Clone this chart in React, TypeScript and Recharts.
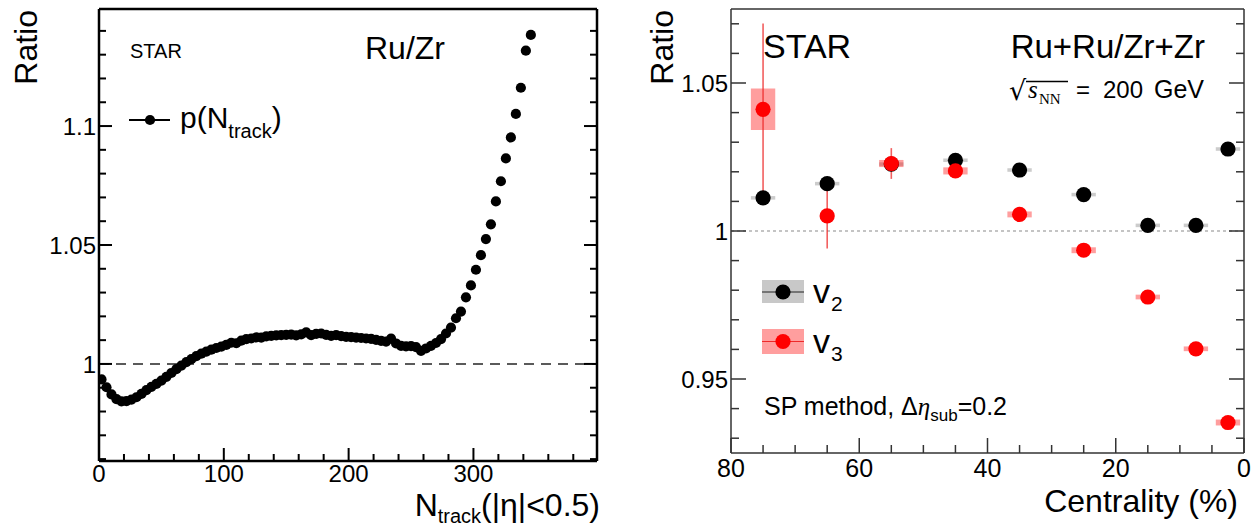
import React from 'react';
import {
  ErrorBar,
  ReferenceArea,
  ReferenceLine,
  Scatter,
  ScatterChart,
  XAxis,
  YAxis,
} from 'recharts';

const FONT = '"Liberation Sans", Arial, Helvetica, sans-serif';
const SERIF = '"Liberation Serif", "DejaVu Serif", serif';

// ---- left panel: p(N_track) Ru/Zr ratio
const nTrack = [
  2, 6, 10, 14, 18, 22, 26, 30, 34, 38,
  42, 46, 50, 54, 58, 62, 66, 70, 74, 78,
  82, 86, 90, 94, 98, 102, 106, 110, 114, 118,
  122, 126, 130, 134, 138, 142, 146, 150, 154, 158,
  162, 166, 170, 174, 178, 182, 186, 190, 194, 198,
  202, 206, 210, 214, 218, 222, 226, 230, 234, 238,
  242, 246, 250, 254, 258, 262, 266, 270, 274, 278,
  282, 286, 290, 294, 298, 302, 306, 310, 314, 318,
  322, 326, 330, 334, 338, 342, 346,
];
const pTrackRatio = [
  0.9935, 0.9902, 0.9872, 0.9852, 0.9843, 0.9844, 0.985, 0.986, 0.9874, 0.989,
  0.9904, 0.9916, 0.993, 0.9946, 0.9962, 0.9978, 0.9993, 1.0008, 1.002, 1.0033,
  1.0043, 1.0052, 1.006, 1.0067, 1.0073, 1.008, 1.0089, 1.0087, 1.0098, 1.0104,
  1.0107, 1.0112, 1.0111, 1.0116, 1.0118, 1.012, 1.0121, 1.0122, 1.0123, 1.012,
  1.0124, 1.0133, 1.0121, 1.0126, 1.0128, 1.0122, 1.0118, 1.0121, 1.0117, 1.0114,
  1.0113, 1.0111, 1.0109, 1.0107, 1.0105, 1.0101, 1.0097, 1.0094, 1.0106, 1.0086,
  1.0076, 1.0074, 1.0075, 1.0071, 1.0055, 1.0065, 1.0076, 1.0088, 1.0104, 1.0128,
  1.0153, 1.0192, 1.022, 1.028, 1.033, 1.0396, 1.0457, 1.0525, 1.0587, 1.0683,
  1.0768, 1.0864, 1.0952, 1.1051, 1.1161, 1.1317, 1.1383,
];
const leftXTicks = [0, 20, 40, 60, 80, 100, 120, 140, 160, 180, 200, 220, 240, 260, 280, 300, 320, 340, 360, 380];
const leftYTicks = [0.96, 0.97, 0.98, 0.99, 1, 1.01, 1.02, 1.03, 1.04, 1.05, 1.06, 1.07, 1.08, 1.09, 1.1, 1.11, 1.12, 1.13, 1.14];

// ---- right panel: v2, v3 ratio vs centrality
const centrality = [75, 65, 55, 45, 35, 25, 15, 7.5, 2.5];
const v2Ratio = [1.0112, 1.016, 1.0226, 1.0239, 1.0206, 1.0123, 1.0019, 1.0019, 1.0277];
const v2Sys = [0.0006, 0.0006, 0.0006, 0.0006, 0.0006, 0.0006, 0.0006, 0.0006, 0.0006];
const v3Ratio = [1.0411, 1.0051, 1.0228, 1.0203, 1.0056, 0.9935, 0.9777, 0.9602, 0.9353];
const v3Stat = [0.029, 0.011, 0.0052, 0.002, 0.0015, 0.0015, 0.0012, 0.0012, 0.0012];
const v3Sys = [0.007, 0, 0.0012, 0.0012, 0.001, 0.001, 0.0008, 0.0008, 0.001];
const rightXTicks = [0, 5, 10, 15, 20, 25, 30, 35, 40, 45, 50, 55, 60, 65, 70, 75, 80];
const rightYTicks = [0.93, 0.94, 0.95, 0.96, 0.97, 0.98, 0.99, 1, 1.01, 1.02, 1.03, 1.04, 1.05, 1.06, 1.07];
const SYS_HALF = 1.9;

const LW = 620;
const LH = 527;
const LF = { left: 99, right: 597, top: 9, bottom: 461 };
const RW = 632;
const RH = 527;
const RF = { left: 111, right: 624, top: 9, bottom: 453 };
const AX = 1; // axis band thickness (must be > 0 or the axis is not drawn)

const isMajorY = (v: number) => Math.round(v * 100) % 5 === 0;
const fmt = (v: number) => String(Math.round(v * 100) / 100);

const frameMargin = (w: number, h: number, f: { left: number; right: number; top: number; bottom: number }) => ({
  top: f.top - AX,
  left: f.left - AX,
  right: w - f.right - AX,
  bottom: h - f.bottom - AX,
});

// ROOT-style ticks: drawn inside the frame, labels only on majors
function tickFactory(
  side: 'left' | 'right' | 'top' | 'bottom',
  frame: { left: number; right: number; top: number; bottom: number },
  opts: { major: (v: number) => boolean; majorLen: number; minorLen: number; stroke: string; width: number; label?: boolean; fontSize?: number; labelGap?: number },
) {
  return (props: any) => {
    const v = props.payload.value;
    const major = opts.major(v);
    const len = major ? opts.majorLen : opts.minorLen;
    const line = { stroke: opts.stroke, strokeWidth: opts.width };
    if (side === 'left' || side === 'right') {
      const y = props.y;
      const x0 = side === 'left' ? frame.left : frame.right;
      const x1 = side === 'left' ? x0 + len : x0 - len;
      return (
        <g>
          <line x1={x0} x2={x1} y1={y} y2={y} {...line} />
          {opts.label && major && (
            <text x={frame.left - 3} y={y + (opts.fontSize ?? 22) * 0.36} textAnchor="end" fontSize={opts.fontSize} fontFamily={FONT} fill="#000">
              {fmt(v)}
            </text>
          )}
        </g>
      );
    }
    const x = props.x;
    const y0 = side === 'bottom' ? frame.bottom : frame.top;
    const y1 = side === 'bottom' ? y0 - len : y0 + len;
    return (
      <g>
        <line x1={x} x2={x} y1={y0} y2={y1} {...line} />
        {opts.label && major && (
          <text x={x} y={frame.bottom + (opts.labelGap ?? 20)} textAnchor="middle" fontSize={opts.fontSize} fontFamily={FONT} fill="#000">
            {v}
          </text>
        )}
      </g>
    );
  };
}

const blackSmallDot = (p: any) => <circle cx={p.cx} cy={p.cy} r={5.1} fill="#000" />;
const blackDot = (p: any) => <circle cx={p.cx} cy={p.cy} r={7.6} fill="#000" />;
const redDot = (p: any) => <circle cx={p.cx} cy={p.cy} r={7.6} fill="#ff0000" />;

function LeftPanel() {
  const rows = nTrack.map((n, i) => ({ n, r: pTrackRatio[i] }));
  const xMajor = (v: number) => v % 100 === 0;
  const base = { stroke: '#000', width: 2, majorLen: 13, minorLen: 7 };
  const axis = { stroke: '#000', strokeWidth: 2.5 };
  return (
    <ScatterChart width={LW} height={LH} margin={frameMargin(LW, LH, LF)}>
      <XAxis type="number" dataKey="n" domain={[0, 399]} allowDataOverflow ticks={leftXTicks} interval={0} height={AX} tickLine={false} axisLine={axis}
        tick={tickFactory('bottom', LF, { ...base, major: xMajor, label: true, fontSize: 24, labelGap: 21 })} />
      <XAxis xAxisId="top" orientation="top" type="number" domain={[0, 399]} allowDataOverflow ticks={leftXTicks} interval={0} height={AX} tickLine={false} axisLine={axis}
        tick={tickFactory('top', LF, { ...base, major: xMajor })} />
      <YAxis type="number" dataKey="r" domain={[0.9592, 1.1492]} allowDataOverflow ticks={leftYTicks} interval={0} width={AX} tickLine={false} axisLine={axis}
        tick={tickFactory('left', LF, { ...base, major: isMajorY, label: true, fontSize: 24 })} />
      <YAxis yAxisId="right" orientation="right" type="number" domain={[0.9592, 1.1492]} allowDataOverflow ticks={leftYTicks} interval={0} width={AX} tickLine={false} axisLine={axis}
        tick={tickFactory('right', LF, { ...base, major: isMajorY })} />
      <ReferenceLine y={1} stroke="#5a5a5a" strokeWidth={2} strokeDasharray="10 7" />
      <Scatter data={rows} shape={blackSmallDot} isAnimationActive={false} />

      <text x={37} y={10} transform="rotate(-90 37 10)" textAnchor="end" fontSize={32} fontFamily={FONT}>Ratio</text>
      <text x={130} y={58} fontSize={20} fontFamily={FONT}>STAR</text>
      <text x={365} y={59} fontSize={32} fontFamily={FONT}>Ru/Zr</text>
      <line x1={129} x2={170} y1={120} y2={120} stroke="#000" strokeWidth={2} />
      <circle cx={150} cy={120} r={5.1} fill="#000" />
      <text x={180} y={128} fontSize={30} fontFamily={FONT}>
        p(N<tspan dy={10} fontSize={20}>track</tspan><tspan dy={-10}>)</tspan>
      </text>
      <text x={600} y={516} textAnchor="end" fontSize={32} fontFamily={FONT}>
        N<tspan dy={7} fontSize={20}>track</tspan><tspan dy={-7}>{'(|η|<0.5)'}</tspan>
      </text>
    </ScatterChart>
  );
}

function RightPanel() {
  const v2Rows = centrality.map((c, i) => ({ c, r: v2Ratio[i] }));
  const v3Rows = centrality.map((c, i) => ({ c, r: v3Ratio[i], err: v3Stat[i] }));
  const xMajor = (v: number) => v % 20 === 0;
  const base = { stroke: '#333', width: 1.5, majorLen: 15, minorLen: 8 };
  const axis = { stroke: '#333', strokeWidth: 1.5 };
  return (
    <ScatterChart width={RW} height={RH} margin={frameMargin(RW, RH, RF)}>
      <XAxis type="number" dataKey="c" domain={[0, 80]} reversed allowDataOverflow ticks={rightXTicks} interval={0} height={AX} tickLine={false} axisLine={axis}
        tick={tickFactory('bottom', RF, { ...base, major: xMajor, label: true, fontSize: 25, labelGap: 24 })} />
      <XAxis xAxisId="top" orientation="top" type="number" domain={[0, 80]} reversed allowDataOverflow ticks={rightXTicks} interval={0} height={AX} tickLine={false} axisLine={axis}
        tick={tickFactory('top', RF, { ...base, major: xMajor })} />
      <YAxis type="number" dataKey="r" domain={[0.925, 1.075]} allowDataOverflow ticks={rightYTicks} interval={0} width={AX} tickLine={false} axisLine={axis}
        tick={tickFactory('left', RF, { ...base, major: isMajorY, label: true, fontSize: 24 })} />
      <YAxis yAxisId="right" orientation="right" type="number" domain={[0.925, 1.075]} allowDataOverflow ticks={rightYTicks} interval={0} width={AX} tickLine={false} axisLine={axis}
        tick={tickFactory('right', RF, { ...base, major: isMajorY })} />
      <ReferenceLine y={1} stroke="#8a8a8a" strokeWidth={1.2} strokeDasharray="3 3" />

      {centrality.map((c, i) => (
        <ReferenceArea key={`s2-${c}`} x1={c - SYS_HALF} x2={c + SYS_HALF} y1={v2Ratio[i] - v2Sys[i]} y2={v2Ratio[i] + v2Sys[i]}
          fill="#9a9a9a" fillOpacity={0.5} stroke="none" />
      ))}
      {centrality.map((c, i) =>
        v3Sys[i] > 0 ? (
          <ReferenceArea key={`s3-${c}`} x1={c - SYS_HALF} x2={c + SYS_HALF} y1={v3Ratio[i] - v3Sys[i]} y2={v3Ratio[i] + v3Sys[i]}
            fill="#ff0000" fillOpacity={0.38} stroke="none" />
        ) : null,
      )}
      <Scatter data={v2Rows} shape={blackDot} isAnimationActive={false} />
      <Scatter data={v3Rows} shape={redDot} isAnimationActive={false}>
        <ErrorBar dataKey="err" direction="y" width={0} stroke="#ee2a2a" strokeOpacity={0.75} strokeWidth={1.6} isAnimationActive={false} />
      </Scatter>

      <text x={53} y={10} transform="rotate(-90 53 10)" textAnchor="end" fontSize={32} fontFamily={FONT}>Ratio</text>
      <text x={143} y={58} fontSize={34} fontFamily={FONT}>STAR</text>
      <text x={585} y={58} textAnchor="end" fontSize={33} fontFamily={FONT}>Ru+Ru/Zr+Zr</text>

      <text x={389} y={100} fontSize={27} fontFamily={'"DejaVu Sans", sans-serif'}>√</text>
      <line x1={406} x2={448} y1={81.5} y2={81.5} stroke="#000" strokeWidth={1.3} />
      <text x={408} y={98} fontSize={25} fontStyle="italic" fontFamily={SERIF}>s</text>
      <text x={419} y={104} fontSize={15} fontFamily={SERIF}>NN</text>
      <text x={456} y={98} fontSize={24} fontFamily={FONT}>=</text>
      <text x={483} y={98} fontSize={24} fontFamily={FONT}>200</text>
      <text x={534} y={98} fontSize={25} fontFamily={FONT}>GeV</text>

      <rect x={142} y={280} width={42} height={23} fill="#c8c8c8" />
      <line x1={142} x2={184} y1={292} y2={292} stroke="#222" strokeWidth={1.2} />
      <circle cx={163} cy={292} r={7.6} fill="#000" />
      <text x={193} y={303} fontSize={34} fontFamily={FONT}>v</text>
      <text x={211} y={311} fontSize={21} fontFamily={FONT}>2</text>
      <rect x={142} y={329} width={42} height={25} fill="#ff0000" fillOpacity={0.38} />
      <line x1={142} x2={184} y1={341.5} y2={341.5} stroke="#ee2a2a" strokeWidth={1.2} />
      <circle cx={163} cy={341.5} r={7.6} fill="#ff0000" />
      <text x={193} y={353} fontSize={34} fontFamily={FONT}>v</text>
      <text x={211} y={361} fontSize={21} fontFamily={FONT}>3</text>

      <text x={144} y={415} fontSize={25} fontFamily={FONT}>
        SP method, Δ<tspan fontStyle="italic" fontFamily={SERIF}>η</tspan>
        <tspan dy={6} fontSize={17}>sub</tspan>
        <tspan dy={-6}>=0.2</tspan>
      </text>
      <text x={618} y={512} textAnchor="end" fontSize={32} fontFamily={FONT}>Centrality (%)</text>
    </ScatterChart>
  );
}

export default function App() {
  return (
    <div style={{ position: 'absolute', left: 0, top: 0, width: 1252, height: 527, background: '#fff', overflow: 'hidden' }}>
      <div style={{ position: 'absolute', left: 0, top: 0 }}>
        <LeftPanel />
      </div>
      <div style={{ position: 'absolute', left: 620, top: 0 }}>
        <RightPanel />
      </div>
    </div>
  );
}
